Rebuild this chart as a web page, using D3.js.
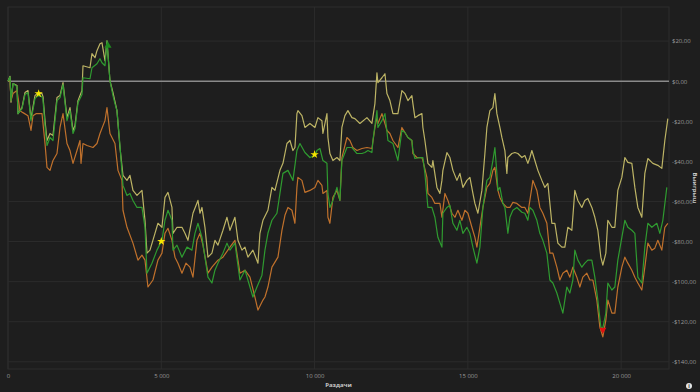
<!DOCTYPE html>
<html><head><meta charset="utf-8">
<script src="https://cdn.jsdelivr.net/npm/d3@7"></script>
<style>
html,body{margin:0;padding:0;background:#1e1e1e;}
svg{display:block;}
text{font-family:"Open Sans","DejaVu Sans",sans-serif;}
</style></head><body>
<svg id="c" width="700" height="392"></svg>
<script>
// ---- data (hands, dollars) ----
const xTicks = [0, 5000, 10000, 15000, 20000];
const yTicks = [20, 0, -20, -40, -60, -80, -100, -120, -140];

const yellowHands = [0,65,98,163,293,326,457,554,652,750,880,978,1109,1141,1207,1272,1370,1467,1598,1696,1794,1924,2022,2120,2185,2283,2413,2446,2674,2739,2837,2902,3000,3065,3163,3228,3326,3424,3554,3652,3750,3881,3978,4076,4207,4370,4468,4533,4631,4794,4891,5022,5120,5218,5348,5381,5511,5674,5772,5870,6033,6196,6261,6326,6424,6522,6652,6750,6848,7011,7142,7239,7402,7500,7631,7729,7826,7989,8153,8217,8316,8478,8609,8707,8870,8968,9098,9196,9294,9359,9424,9457,9587,9685,9848,10011,10109,10239,10272,10403,10435,10500,10598,10729,10826,10891,10989,11087,11218,11315,11479,11707,11870,11968,12034,12066,12197,12295,12360,12457,12555,12718,12848,12946,13044,13174,13207,13272,13370,13500,13533,13598,13696,13826,13859,13990,14088,14153,14185,14316,14414,14512,14642,14740,14838,14968,15066,15164,15229,15327,15457,15555,15620,15718,15816,15881,15946,16044,16109,16207,16272,16305,16435,16533,16631,16761,16859,16957,17022,17087,17185,17283,17413,17511,17609,17739,17837,17935,18065,18163,18261,18391,18489,18587,18717,18815,18913,19043,19141,19239,19337,19402,19500,19565,19696,19794,19891,20022,20120,20218,20348,20446,20544,20674,20772,20870,21033,21196,21326,21424,21522];
const yellowVals = [0,2.4,-10.5,-1.2,-2.2,-16.2,-13.2,-5.7,-4.7,-18.7,-7.2,-5.7,-6.2,-7.7,-19.7,-29.6,-26.1,-27.1,-8.2,-7.2,-0.7,-18.2,-13.2,-24.6,-22.1,-9.7,-4.7,7.7,6.7,13.7,11.7,15.2,18.7,19.2,10.2,20.1,0.2,-5.7,-14.7,-33.1,-47.0,-49.5,-47.0,-54.5,-57.0,-54.5,-69.4,-85.8,-84.3,-75.9,-70.9,-72.9,-58.0,-55.5,-63.0,-75.9,-72.9,-72.9,-75.9,-79.4,-65.9,-59.5,-65.9,-63.0,-72.9,-87.8,-85.8,-79.4,-81.8,-74.4,-67.9,-74.4,-67.9,-79.4,-84.3,-82.8,-87.8,-84.3,-90.8,-75.9,-69.4,-64.4,-53.0,-54.5,-44.5,-41.0,-31.1,-29.6,-34.6,-33.1,-16.2,-14.7,-17.2,-23.1,-21.1,-23.1,-18.2,-19.7,-26.1,-16.2,-28.1,-36.1,-39.6,-38.1,-39.6,-23.1,-17.2,-14.7,-18.2,-18.7,-21.1,-18.2,-21.1,-11.2,4.2,-0.7,1.7,3.7,-6.2,-9.7,-16.2,-16.2,-4.7,-6.2,-9.7,-7.2,-11.2,-18.2,-17.2,-16.2,-23.1,-29.6,-41.0,-43.0,-39.6,-53.0,-56.0,-49.5,-44.5,-35.6,-38.1,-44.5,-49.5,-46.0,-53.0,-49.5,-48.0,-56.0,-61.0,-65.9,-54.5,-36.1,-23.1,-14.7,-13.2,-6.2,-16.2,-23.1,-28.1,-34.6,-46.0,-38.1,-36.1,-35.6,-36.1,-38.1,-37.1,-41.0,-38.1,-34.6,-39.6,-44.5,-49.5,-53.0,-51.0,-70.9,-70.9,-80.8,-82.8,-82.8,-72.9,-74.4,-54.5,-59.5,-63.0,-59.5,-58.5,-63.0,-67.9,-74.4,-87.8,-91.8,-85.8,-69.4,-72.9,-72.9,-54.5,-48.0,-38.1,-40.5,-41.0,-53.0,-63.0,-67.9,-46.0,-38.6,-41.0,-42.0,-43.5,-29.6,-18.7];

const greenHands = [0,65,98,163,293,326,457,554,652,750,880,978,1109,1141,1207,1272,1370,1467,1598,1696,1794,1924,2022,2120,2185,2283,2413,2446,2674,2739,2902,3000,3065,3163,3228,3326,3424,3489,3554,3652,3750,3881,3978,4076,4207,4370,4468,4533,4696,4859,5022,5120,5218,5348,5381,5511,5674,5837,6000,6098,6196,6326,6424,6522,6652,6750,6848,7011,7142,7239,7402,7565,7729,7892,7989,8120,8283,8381,8478,8609,8772,8870,8968,9131,9294,9424,9522,9685,9848,10011,10076,10174,10272,10403,10435,10500,10598,10729,10826,10891,11055,11218,11381,11544,11642,11740,11870,11903,12034,12066,12197,12295,12392,12555,12718,12848,12946,13044,13174,13207,13272,13435,13533,13598,13696,13826,13924,14022,14153,14185,14316,14414,14512,14642,14740,14838,14968,15066,15164,15294,15392,15490,15620,15718,15816,15881,15946,15979,16044,16142,16207,16305,16370,16468,16598,16761,16859,16957,17022,17120,17250,17348,17446,17576,17674,17772,17902,18000,18098,18228,18326,18424,18489,18587,18717,18815,18913,19043,19141,19239,19337,19402,19500,19565,19696,19794,19891,20022,20120,20218,20348,20446,20544,20674,20772,20870,21000,21163,21261,21359,21489];
const greenVals = [0,2.2,-9.7,-1.2,-2.7,-16.2,-13.7,-6.7,-5.7,-19.7,-8.7,-7.2,-7.7,-9.2,-22.1,-32.1,-28.1,-29.6,-9.7,-8.2,-1.7,-19.7,-14.7,-26.1,-23.6,-10.7,-6.7,1.7,1.2,6.7,8.7,11.2,9.2,7.7,20.1,0.2,-7.2,-11.2,-14.7,-32.1,-52.0,-57.0,-56.0,-59.5,-63.0,-63.0,-72.9,-95.8,-90.8,-84.3,-79.4,-69.4,-64.4,-69.4,-84.3,-81.8,-87.8,-82.8,-84.3,-75.9,-70.9,-77.9,-87.8,-97.8,-100.7,-94.3,-90.8,-85.8,-80.8,-84.3,-80.8,-99.2,-94.3,-102.7,-107.7,-102.7,-96.8,-84.3,-75.9,-69.4,-65.9,-56.0,-46.0,-44.5,-49.5,-34.6,-31.1,-35.6,-38.1,-37.1,-34.6,-33.6,-39.6,-41.0,-56.0,-63.0,-59.5,-53.0,-59.5,-39.6,-33.1,-33.1,-36.1,-36.1,-35.6,-34.6,-35.6,-29.6,-14.7,-23.1,-19.7,-16.2,-29.6,-31.1,-39.6,-24.6,-25.6,-28.1,-29.6,-34.6,-38.6,-38.1,-38.1,-46.0,-63.0,-63.0,-67.9,-77.9,-82.8,-65.9,-63.0,-61.9,-70.9,-74.4,-69.4,-75.9,-72.9,-75.9,-82.8,-90.8,-82.8,-63.0,-49.5,-48.0,-39.6,-33.1,-46.0,-54.5,-53.0,-61.0,-63.0,-75.9,-67.9,-64.4,-63.0,-65.4,-65.9,-69.4,-63.0,-64.4,-69.4,-75.9,-79.4,-85.8,-99.2,-100.7,-105.7,-110.7,-115.7,-102.7,-105.7,-99.2,-84.3,-89.3,-92.8,-90.8,-89.3,-89.3,-97.8,-109.2,-122.7,-123.2,-115.7,-100.7,-104.2,-102.7,-89.3,-77.9,-69.4,-72.9,-74.4,-75.9,-97.8,-100.7,-82.8,-70.9,-72.9,-70.9,-75.9,-69.4,-53.0];

const orangeHands = [0,65,98,163,293,391,489,652,750,815,913,1109,1207,1272,1370,1467,1598,1696,1794,1924,2022,2120,2250,2348,2381,2446,2576,2772,2902,3000,3163,3228,3326,3489,3587,3717,3750,3881,4076,4239,4370,4468,4565,4728,4891,5022,5120,5218,5348,5446,5544,5674,5804,5935,6033,6163,6261,6359,6522,6652,6848,7011,7239,7402,7565,7729,7892,8054,8153,8316,8381,8478,8609,8805,8935,9033,9131,9261,9359,9424,9457,9587,9685,9848,10011,10109,10239,10272,10403,10435,10500,10598,10729,10826,10891,11055,11152,11250,11381,11544,11707,11870,11968,12034,12066,12197,12295,12360,12457,12555,12718,12848,12946,13044,13174,13207,13337,13500,13533,13663,13696,13826,13924,14088,14153,14251,14349,14479,14577,14675,14805,14903,15001,15131,15229,15294,15392,15490,15620,15718,15816,15881,15979,16044,16142,16272,16370,16468,16598,16761,16859,16957,17087,17120,17250,17348,17446,17576,17674,17772,17902,18000,18098,18228,18326,18424,18554,18652,18750,18880,18978,19076,19206,19305,19402,19500,19565,19696,19794,19891,20022,20120,20218,20348,20446,20544,20674,20772,20870,21000,21098,21196,21326,21424,21522];
const orangeVals = [0,0.2,-9.7,-6.2,-4.7,-14.7,-15.7,-17.2,-24.6,-17.2,-16.2,-16.2,-31.1,-43.0,-44.5,-39.6,-36.1,-23.1,-16.2,-31.1,-34.6,-41.0,-34.6,-29.6,-41.0,-31.1,-32.1,-33.1,-31.1,-26.1,-19.7,-13.2,-26.1,-31.1,-44.5,-49.5,-64.4,-72.9,-80.8,-89.3,-86.8,-89.3,-102.7,-99.2,-89.3,-85.8,-75.9,-73.4,-79.4,-87.8,-90.8,-95.8,-90.8,-92.8,-97.8,-79.4,-75.9,-81.8,-95.8,-92.8,-89.3,-87.8,-82.8,-79.4,-95.8,-94.3,-97.8,-107.7,-114.2,-109.2,-107.7,-102.7,-92.8,-87.8,-74.4,-66.9,-63.0,-64.4,-70.9,-53.0,-48.0,-49.5,-55.5,-54.5,-53.0,-49.5,-52.0,-56.0,-54.5,-67.9,-70.9,-58.0,-54.5,-59.5,-38.1,-28.1,-29.6,-33.1,-34.6,-33.6,-33.1,-33.6,-23.1,-18.2,-21.1,-16.2,-21.1,-24.6,-26.1,-29.6,-33.1,-23.1,-25.6,-28.1,-29.6,-36.1,-38.1,-38.1,-39.6,-48.0,-56.0,-58.0,-61.0,-61.0,-67.9,-56.0,-59.5,-65.9,-67.9,-64.4,-69.4,-64.4,-65.9,-72.9,-77.9,-82.8,-72.9,-63.0,-53.0,-51.0,-44.5,-43.0,-54.5,-58.0,-61.0,-63.0,-63.0,-60.5,-61.0,-63.0,-63.0,-65.9,-53.0,-49.5,-54.5,-63.0,-65.9,-70.9,-85.8,-85.8,-92.8,-99.2,-95.8,-94.3,-97.8,-92.8,-97.8,-102.7,-97.8,-95.8,-99.2,-99.2,-109.2,-122.7,-127.6,-119.2,-109.2,-115.7,-115.7,-102.7,-92.8,-87.8,-90.8,-94.3,-97.8,-100.7,-104.2,-92.8,-80.8,-84.3,-83.3,-79.4,-84.3,-72.9,-70.9];

const starHands = [1000, 5000, 10000];
const starVals = [-6.2, -79.9, -36.6];
const maxHand = 3261, maxVal = 17.7;
const minHand = 19402, minVal = -124.0;

// ---- drawing ----
const svg = d3.select("#c");
svg.append("rect").attr("width",700).attr("height",392).attr("fill","#1e1e1e");

const L = 8, R = 669, T = 7, B = 369;
const x = d3.scaleLinear().domain([0, 21560]).range([L, R]);
const y = d3.scaleLinear().domain([-143.6, 37]).range([B, T]);

const gridC = "#2c2c2c";
// frame
svg.append("rect").attr("x",L).attr("y",T).attr("width",R-L).attr("height",B-T)
  .attr("fill","none").attr("stroke",gridC).attr("stroke-width",1);

// grid
svg.append("g").selectAll("line").data(xTicks).join("line")
  .attr("x1",d=>x(d)).attr("x2",d=>x(d)).attr("y1",T).attr("y2",B)
  .attr("stroke",gridC);
svg.append("g").selectAll("line").data(yTicks.filter(d=>d!==0)).join("line")
  .attr("x1",L).attr("x2",R).attr("y1",d=>y(d)).attr("y2",d=>y(d))
  .attr("stroke",gridC);

// zero line
svg.append("line").attr("x1",L).attr("x2",R).attr("y1",y(0)).attr("y2",y(0))
  .attr("stroke","#8a8a8a").attr("stroke-width",1.5);

// axes
const fmtX = d => d3.format(",")(d).replace(/,/g, "\u2009");
const xAxis = d3.axisBottom(x).tickValues(xTicks).tickSize(0).tickPadding(5)
  .tickFormat(d => d3.format(",")(d).replace(/,/g, " "));
const gx = svg.append("g").attr("transform",`translate(0,${B})`).call(xAxis);
gx.select(".domain").remove();
gx.selectAll("text").attr("fill","#9a9a9a").attr("font-size",6);

const fmtY = d => (d < 0 ? "-$" : "$") + Math.abs(d).toFixed(2).replace(".", ",");
const yAxis = d3.axisRight(y).tickValues(yTicks).tickSize(0).tickPadding(3).tickFormat(fmtY);
const gy = svg.append("g").attr("transform",`translate(${R},0)`).call(yAxis);
gy.select(".domain").remove();
gy.selectAll("text").attr("fill","#9a9a9a").attr("font-size",6);

// axis titles
svg.append("text").attr("x",(L+R)/2).attr("y",387).attr("text-anchor","middle")
  .attr("fill","#c8c8c8").attr("font-size",6).attr("font-weight","bold").text("Раздачи");
svg.append("text").attr("transform","translate(693,188) rotate(90)").attr("text-anchor","middle")
  .attr("fill","#c8c8c8").attr("font-size",6).attr("font-weight","bold").text("Выигрыш");

// lines
const mk = (hs, vs) => hs.map((h,i)=>[h, vs[i]]);
const line = d3.line().x(d=>x(d[0])).y(d=>y(d[1]));
const series = [
  {h: yellowHands, v: yellowVals, c: "#bdb465"},
  {h: orangeHands, v: orangeVals, c: "#c0712c"},
  {h: greenHands, v: greenVals, c: "#2f9b30"}
];
series.forEach(s=>{
  svg.append("path").datum(mk(s.h, s.v)).attr("d", line)
    .attr("fill","none").attr("stroke", s.c).attr("stroke-width",1.2)
    .attr("stroke-linejoin","round");
});

// markers
const star = d3.symbol().type(d3.symbolStar).size(22);
svg.append("g").selectAll("path").data(mk(starHands, starVals)).join("path")
  .attr("d", star).attr("transform", d=>`translate(${x(d[0])},${y(d[1])})`)
  .attr("fill","#f5e600");
svg.append("path").attr("d", d3.symbol().type(d3.symbolTriangle).size(22))
  .attr("transform",`translate(${x(maxHand)},${y(maxVal)})`).attr("fill","#1f8a1f");
svg.append("path").attr("d", d3.symbol().type(d3.symbolTriangle).size(22))
  .attr("transform",`translate(${x(minHand)},${y(minVal)}) rotate(180)`).attr("fill","#e01010");

// info icon
svg.append("circle").attr("cx",689).attr("cy",386).attr("r",3).attr("fill","#e6e6e6");
svg.append("text").attr("x",689).attr("y",388).attr("text-anchor","middle")
  .attr("font-size",5).attr("font-weight","bold").attr("fill","#1e1e1e").text("i");
</script>
</body></html>
